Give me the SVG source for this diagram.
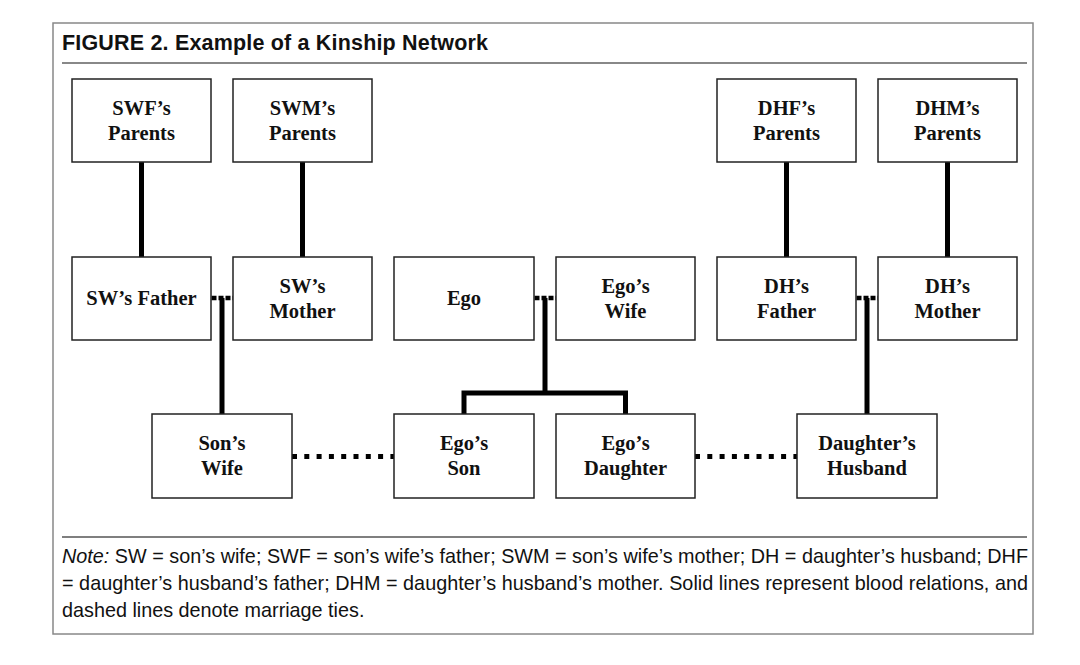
<svg xmlns="http://www.w3.org/2000/svg" width="1080" height="665" viewBox="0 0 1080 665">
<style>
.box{fill:#fff;stroke:#222;stroke-width:1.5}
.lbl{font-family:"Liberation Serif","Times New Roman",serif;font-weight:bold;font-size:20.5px;fill:#111;text-anchor:middle}
.blood{fill:none;stroke:#000;stroke-width:5;stroke-linejoin:miter}
.wed{fill:none;stroke:#000;stroke-width:4.5;stroke-dasharray:5 2}
.dot{fill:none;stroke:#000;stroke-width:5;stroke-dasharray:5 7.3}
.note{font-family:"Liberation Sans",Arial,sans-serif;font-size:19.8px;fill:#111}
</style>
<rect x="0" y="0" width="1080" height="665" fill="#fff"/>
<rect x="53" y="23" width="980" height="611" fill="#fff" stroke="#888" stroke-width="1.5"/>
<text x="62" y="49.5" font-family="Liberation Sans,Arial,sans-serif" font-weight="bold" font-size="21.5" fill="#111" textLength="426" lengthAdjust="spacing">FIGURE 2. Example of a Kinship Network</text>
<line x1="62" y1="63" x2="1027" y2="63" stroke="#888" stroke-width="2"/>

<g id="connectors">
<path class="blood" d="M141.5,162 V257 M302.5,162 V257 M786.5,162 V257 M947.5,162 V257"/>
<path class="wed" d="M211.5,298 H233 M534.5,298 H556 M856.5,298 H878"/>
<path class="blood" d="M222,298 V414 M867,298 V414 M545,298 V393"/>
<path class="blood" d="M464,414 V393 H625.5 V414"/>
<path class="dot" d="M292,456.5 H394 M695,456.5 H797"/>
</g>

<g id="swf-parents"><rect class="box" x="72" y="79" width="139" height="83"/><text class="lbl" x="141.5" y="115">SWF’s</text><text class="lbl" x="141.5" y="140">Parents</text></g>
<g id="swm-parents"><rect class="box" x="233" y="79" width="139" height="83"/><text class="lbl" x="302.5" y="115">SWM’s</text><text class="lbl" x="302.5" y="140">Parents</text></g>
<g id="dhf-parents"><rect class="box" x="717" y="79" width="139" height="83"/><text class="lbl" x="786.5" y="115">DHF’s</text><text class="lbl" x="786.5" y="140">Parents</text></g>
<g id="dhm-parents"><rect class="box" x="878" y="79" width="139" height="83"/><text class="lbl" x="947.5" y="115">DHM’s</text><text class="lbl" x="947.5" y="140">Parents</text></g>

<g id="sw-father"><rect class="box" x="72" y="257" width="139" height="83"/><text class="lbl" x="141.5" y="305">SW’s Father</text></g>
<g id="sw-mother"><rect class="box" x="233" y="257" width="139" height="83"/><text class="lbl" x="302.5" y="293">SW’s</text><text class="lbl" x="302.5" y="318">Mother</text></g>
<g id="ego"><rect class="box" x="394" y="257" width="140" height="83"/><text class="lbl" x="464" y="305">Ego</text></g>
<g id="ego-wife"><rect class="box" x="556" y="257" width="139" height="83"/><text class="lbl" x="625.5" y="293">Ego’s</text><text class="lbl" x="625.5" y="318">Wife</text></g>
<g id="dh-father"><rect class="box" x="717" y="257" width="139" height="83"/><text class="lbl" x="786.5" y="293">DH’s</text><text class="lbl" x="786.5" y="318">Father</text></g>
<g id="dh-mother"><rect class="box" x="878" y="257" width="139" height="83"/><text class="lbl" x="947.5" y="293">DH’s</text><text class="lbl" x="947.5" y="318">Mother</text></g>

<g id="sons-wife"><rect class="box" x="152" y="414" width="140" height="84"/><text class="lbl" x="222" y="450">Son’s</text><text class="lbl" x="222" y="475">Wife</text></g>
<g id="ego-son"><rect class="box" x="394" y="414" width="140" height="84"/><text class="lbl" x="464" y="450">Ego’s</text><text class="lbl" x="464" y="475">Son</text></g>
<g id="ego-daughter"><rect class="box" x="556" y="414" width="139" height="84"/><text class="lbl" x="625.5" y="450">Ego’s</text><text class="lbl" x="625.5" y="475">Daughter</text></g>
<g id="daughters-husband"><rect class="box" x="797" y="414" width="140" height="84"/><text class="lbl" x="867" y="450">Daughter’s</text><text class="lbl" x="867" y="475">Husband</text></g>

<line x1="62" y1="537" x2="1027" y2="537" stroke="#555" stroke-width="1.5"/>
<text class="note" x="62" y="563" textLength="966" lengthAdjust="spacing"><tspan font-style="italic">Note:</tspan> SW = son’s wife; SWF = son’s wife’s father; SWM = son’s wife’s mother; DH = daughter’s husband; DHF</text>
<text class="note" x="62" y="590" textLength="966" lengthAdjust="spacing">= daughter’s husband’s father; DHM = daughter’s husband’s mother. Solid lines represent blood relations, and</text>
<text class="note" x="62" y="617">dashed lines denote marriage ties.</text>
</svg>
